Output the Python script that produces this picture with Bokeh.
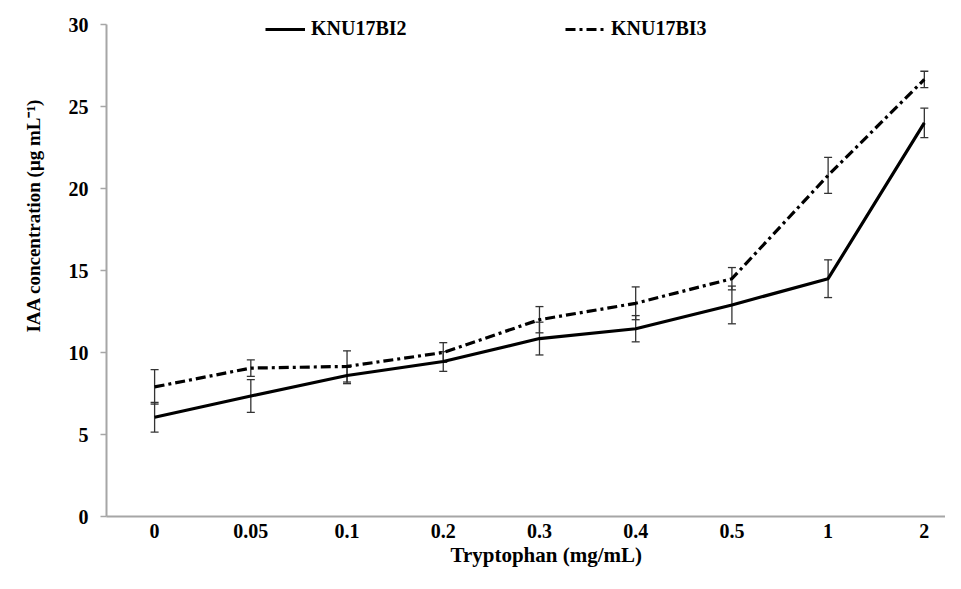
from bokeh.plotting import figure
from bokeh.models import (ColumnDataSource, Range1d, FixedTicker, Whisker, TeeHead,
                          Legend, LegendItem, Title)
from bokeh.embed import file_html
from bokeh.resources import INLINE

# ---- data ----
categories = ["0", "0.05", "0.1", "0.2", "0.3", "0.4", "0.5", "1", "2"]
bi2_values = [6.05, 7.35, 8.6, 9.45, 10.85, 11.45, 12.9, 14.5, 24.0]
bi2_errors = [0.9, 1.0, 0.5, 0.6, 1.0, 0.8, 1.15, 1.15, 0.9]
bi3_values = [7.9, 9.05, 9.15, 10.0, 12.0, 13.0, 14.5, 20.8, 26.65]
bi3_errors = [1.05, 0.5, 0.95, 0.6, 0.8, 1.0, 0.68, 1.1, 0.5]
y_ticks = [0, 5, 10, 15, 20, 25, 30]

FONT = "Liberation Serif"
FS = "20px"

xs = list(range(len(categories)))

def src(vals, errs):
    return ColumnDataSource(dict(
        x=xs, y=vals,
        upper=[v + e for v, e in zip(vals, errs)],
        lower=[v - e for v, e in zip(vals, errs)],
    ))

s2 = src(bi2_values, bi2_errors)
s3 = src(bi3_values, bi3_errors)

p = figure(width=945, height=573, output_backend="svg", toolbar_location=None,
           x_range=Range1d(-0.5, 8.22), y_range=Range1d(0, 31.22),
           min_border_left=106, min_border_right=0, min_border_top=4, min_border_bottom=57)
p.outline_line_color = None
p.grid.grid_line_color = None
p.background_fill_color = "white"

r2 = p.line("x", "y", source=s2, line_color="black", line_width=3.2)
r3 = p.line("x", "y", source=s3, line_color="black", line_width=3.2, line_dash="10 4 3 4")

for s in (s2, s3):
    w = Whisker(source=s, base="x", upper="upper", lower="lower",
                line_color="#333333", line_width=1.3,
                upper_head=TeeHead(size=8, line_color="#333333", line_width=1.3),
                lower_head=TeeHead(size=8, line_color="#333333", line_width=1.3))
    p.add_layout(w)

# x axis
xa = p.xaxis[0]
xa.ticker = FixedTicker(ticks=xs)
xa.major_label_overrides = {i: c for i, c in zip(xs, categories)}
xa.major_tick_out = 0
xa.major_tick_in = 0
xa.minor_tick_out = 0
xa.minor_tick_in = 0
xa.axis_line_color = "#a6a6a6"
xa.axis_line_width = 2
xa.major_label_text_font = FONT
xa.major_label_text_font_style = "bold"
xa.major_label_text_font_size = FS
xa.major_label_text_color = "black"
xa.major_label_standoff = 7

# y axis
ya = p.yaxis[0]
ya.ticker = FixedTicker(ticks=y_ticks)
ya.bounds = (0, 30)
ya.major_tick_out = 6
ya.major_tick_in = 0
ya.minor_tick_out = 0
ya.minor_tick_in = 0
ya.major_tick_line_color = "#a6a6a6"
ya.axis_line_color = "#a6a6a6"
ya.axis_line_width = 2
ya.major_tick_line_width = 1.5
ya.major_label_text_font = FONT
ya.major_label_text_font_style = "bold"
ya.major_label_text_font_size = FS
ya.major_label_text_color = "black"
ya.major_label_standoff = 12

ytitle = Title(text="IAA concentration (\u03bcg mL\u207b\u00b9)", align="right",
               vertical_align="top", offset=94, standoff=40,
               text_font=FONT, text_font_style="bold", text_font_size="19px",
               text_color="black")
p.add_layout(ytitle, "left")

xtitle = Title(text="Tryptophan (mg/mL)", align="left", offset=344, standoff=0,
               text_font=FONT, text_font_style="bold", text_font_size="21px",
               text_color="black")
p.add_layout(xtitle, "below")

def mk_legend(label, r, loc):
    lg = Legend(items=[LegendItem(label=label, renderers=[r])], location=loc,
                orientation="horizontal", padding=0, margin=0,
                glyph_width=40, glyph_height=20, label_height=20, label_standoff=6,
                border_line_alpha=0, background_fill_alpha=0,
                label_text_font=FONT, label_text_font_style="bold",
                label_text_font_size=FS, label_text_color="black")
    p.add_layout(lg, "center")

mk_legend("KNU17BI2", r2, (159, 476))
mk_legend("KNU17BI3", r3, (459, 476))

open("out.html", "w").write(file_html(p, INLINE))
